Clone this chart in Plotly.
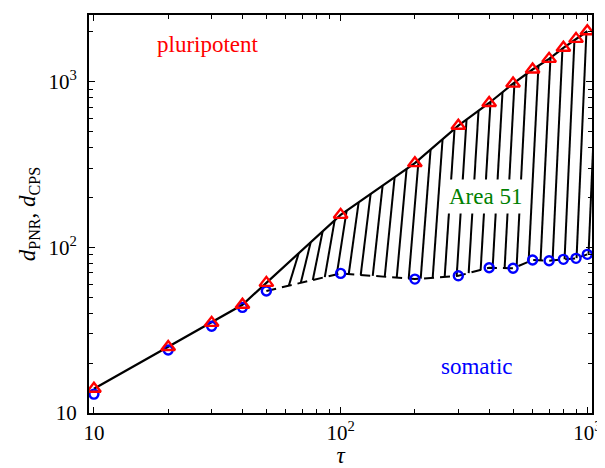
import numpy as np
import plotly.graph_objects as go

# ---- data ----
tau = [10, 20, 30, 40, 50, 100, 200, 300, 400, 500, 600, 700, 800, 900, 1000]
d_pnr = [14, 25, 35, 45, 61, 157, 322, 542, 743, 973, 1183, 1372, 1600, 1811, 2014]
d_cps = [13, 24, 33.4, 43.4, 54.5, 69.6, 64.3, 67.3, 75.3, 74.7, 83.8, 83, 84.6, 85.8, 90.7]

x_major = [10, 100, 1000]
x_major_text = ["10", "10<sup>2</sup>", "10<sup>3</sup>"]
y_major = [10, 100, 1000]
y_major_text = ["10", "10<sup>2</sup>", "10<sup>3</sup>"]
x_minor = [20, 30, 40, 50, 60, 70, 80, 90, 200, 300, 400, 500, 600, 700, 800, 900]
y_minor = [20, 30, 40, 50, 60, 70, 80, 90, 200, 300, 400, 500, 600, 700, 800, 900, 2000]

FONT = "Liberation Serif"

# ---- hatch lines between the curves (log-log interpolation) ----
def loginterp(xq, xs, ys):
    lx = np.log10(xs); ly = np.log10(ys)
    if xq <= lx[-1]:
        return np.interp(xq, lx, ly)
    s = (ly[-1] - ly[-2]) / (lx[-1] - lx[-2])
    return ly[-1] + s * (xq - lx[-1])

lo_x = tau[4:]
lo_y = d_cps[4:]
hx, hy = [], []
step = 0.0486
shift = 0.04
s = 1.79
while s < 3.03:
    yb = loginterp(s, lo_x, lo_y)
    yt = loginterp(s + shift, tau, d_pnr)
    hx += [10 ** s, 10 ** (s + shift), None]
    hy += [10 ** yb, 10 ** yt, None]
    s += step

fig = go.Figure()
fig.add_trace(go.Scatter(x=hx, y=hy, mode="lines",
                         line=dict(color="black", width=2), hoverinfo="skip"))
fig.add_trace(go.Scatter(x=tau[4:], y=d_cps[4:], mode="lines",
                         line=dict(color="black", width=2, dash="10px,6px")))
fig.add_trace(go.Scatter(x=tau, y=d_pnr, mode="lines",
                         line=dict(color="black", width=2.2)))
fig.add_trace(go.Scatter(x=tau, y=d_cps, mode="markers",
                         marker=dict(symbol="circle-open", size=9, color="blue",
                                     line=dict(width=2.4, color="blue"))))
fig.add_trace(go.Scatter(x=tau, y=d_pnr, mode="markers",
                         marker=dict(symbol="triangle-up-open", size=12, color="red",
                                     line=dict(width=2.4, color="red"))))

fig.add_annotation(x=1.462, y=3.224, xref="x", yref="y", text="pluripotent",
                   showarrow=False, font=dict(family=FONT, size=23, color="red"))
fig.add_annotation(x=2.588, y=2.304, xref="x", yref="y", text="Area 51",
                   showarrow=False, bgcolor="white", borderpad=4,
                   font=dict(family=FONT, size=23, color="rgb(0,128,0)"))
fig.add_annotation(x=2.551, y=1.278, xref="x", yref="y", text="somatic",
                   showarrow=False, font=dict(family=FONT, size=23, color="blue"))

axis_common = dict(type="log", showgrid=False, zeroline=False, automargin=False,
                   showline=True, linecolor="black", linewidth=2, mirror="ticks",
                   ticks="inside", ticklen=6, tickwidth=1, tickcolor="black",
                   tickfont=dict(family=FONT, size=21, color="black"))

# page body has an 8px margin, so the figure is sized/offset to compensate
fig.update_layout(
    width=597, height=460,
    margin=dict(l=81, r=13, t=7, b=55),
    paper_bgcolor="white", plot_bgcolor="white",
    showlegend=False,
    font=dict(family=FONT, color="black"),
    xaxis=dict(**axis_common, range=[0.98, 3.019],
               tickmode="array", tickvals=x_major, ticktext=x_major_text,
               minor=dict(tickmode="array", tickvals=x_minor, ticks="inside",
                          ticklen=4, tickcolor="black", tickwidth=1),
               title=dict(text="<i>τ</i>", font=dict(family=FONT, size=23), standoff=9)),
    yaxis=dict(**axis_common, range=[1.0, 3.402],
               tickmode="array", tickvals=y_major, ticktext=y_major_text,
               ticklabelstandoff=6,
               minor=dict(tickmode="array", tickvals=y_minor, ticks="inside",
                          ticklen=4, tickcolor="black", tickwidth=1),
               title=dict(text="<i>d</i><sub>PNR</sub>, <i>d</i><sub>CPS</sub>",
                          font=dict(family=FONT, size=23), standoff=6)),
)

fig.write_html("out.html")
